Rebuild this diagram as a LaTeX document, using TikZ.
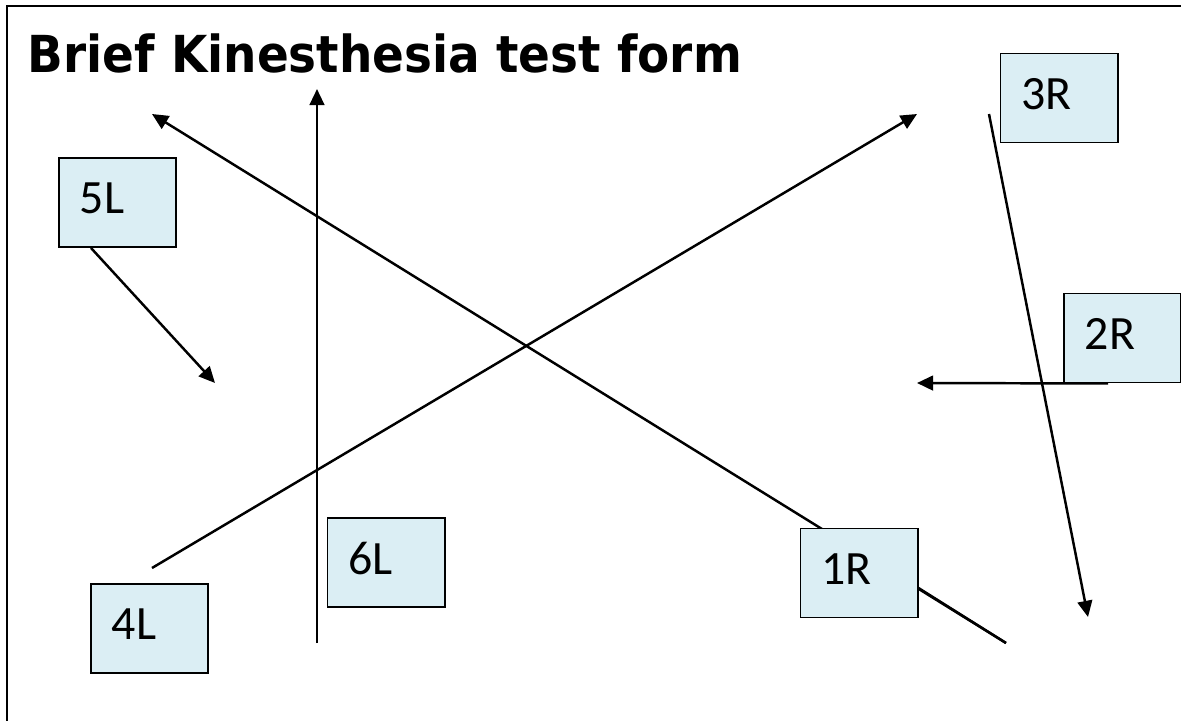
\documentclass[tikz,border=0pt]{standalone}
\usepackage{fontspec}
\setmainfont{Carlito}
\newfontfamily\titlefont{DejaVu Sans}[FakeStretch=0.92]
\usetikzlibrary{arrows.meta}
\definecolor{boxblue}{HTML}{DBEEF4}
\begin{document}
\begin{tikzpicture}[x=0.01cm, y=-0.01cm,
    box/.style={draw, line width=0.55pt, fill=boxblue, rectangle,
      minimum width=1.17cm, minimum height=0.89cm, inner xsep=0.21cm,
      text width=0.75cm, align=left, text depth=0.08cm,
      font=\fontsize{13.6}{16}\selectfont},
    arr/.style={line width=0.7pt, -{Triangle[length=4.6pt, width=4.2pt]}},
    seg/.style={line width=0.7pt}]
    \useasboundingbox (0,0) rectangle (1181,721);
    \draw [line width=0.85pt] (7,721) -- (7,6) -- (1181,6);

    \node [anchor=base west, inner sep=0pt,
      font=\titlefont\bfseries\fontsize{14.5}{17}\selectfont] (title) at (27,72)
      {Brief Kinesthesia test form};

    % free ends of the movements
    \coordinate (t1R) at (152,114);
    \coordinate (e1R) at (1006,643);
    \coordinate (t2R) at (917,383);
    \coordinate (s3R) at (989,114);
    \coordinate (t3R) at (1088,617);
    \coordinate (s4L) at (152,568);
    \coordinate (t4L) at (917,114);
    \coordinate (t5L) at (215,383);
    \coordinate (s6L) at (317,643);
    \coordinate (t6L) at (317,89);

    \draw [arr] (e1R) -- (t1R) ;
    \draw [arr] (s6L) -- (t6L) ;
    \draw [arr] (s4L) -- (t4L) ;
    \draw [arr] (s3R) -- (t3R) ;

    \node [box] (b5L) at (117.5,202.5) {5L};
    \node [box] (b3R) at (1059,98) {3R};
    \node [box] (b2R) at (1122.5,338) {2R};
    \node [box] (b1R) at (859,573) {1R};
    \node [box] (b4L) at (149.5,628.5) {4L};
    \node [box] (b6L) at (386,562.5) {6L};

    \draw [arr] ([xshift=0.33cm]b5L.south west) -- (t5L) ;
    \draw [arr] ([xshift=0.45cm]b2R.south west) -- (t2R) ;
    \draw [seg] (b1R.east |- 0,588) -- (e1R) ;

  \end{tikzpicture}
\end{document}
